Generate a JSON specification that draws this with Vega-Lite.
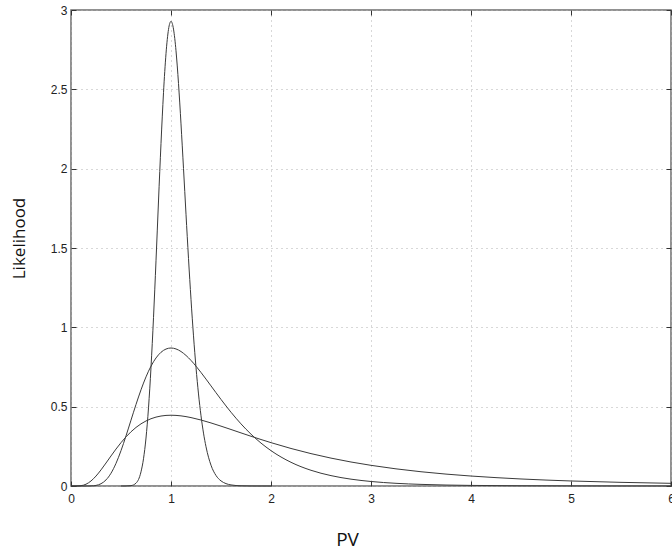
{
  "$schema": "https://vega.github.io/schema/vega-lite/v6.json",
  "width": 600,
  "height": 476,
  "autosize": {"type": "none"},
  "padding": {"left": 71, "top": 10, "right": 1, "bottom": 66},
  "background": "white",
  "config": {
    "view": {"stroke": "#6e6e6e", "strokeWidth": 1.5},
    "axis": {
      "labelFont": "Liberation Sans",
      "labelFontSize": 12,
      "labelColor": "#222",
      "labelFlush": false,
      "labelOverlap": false,
      "tickColor": "#333",
      "tickSize": -5,
      "domain": false,
      "titleFont": "Open Sans",
      "titleFontSize": 17,
      "titleFontWeight": "normal",
      "titleColor": "#111"
    }
  },
  "data": {
    "values": [
      {"c": "wide", "x": 0, "y": 0},
      {"c": "wide", "x": 0.05, "y": 0.0000},
      {"c": "wide", "x": 0.1, "y": 0.0020},
      {"c": "wide", "x": 0.15, "y": 0.0113},
      {"c": "wide", "x": 0.2, "y": 0.0317},
      {"c": "wide", "x": 0.25, "y": 0.0627},
      {"c": "wide", "x": 0.3, "y": 0.1016},
      {"c": "wide", "x": 0.35, "y": 0.1449},
      {"c": "wide", "x": 0.4, "y": 0.1894},
      {"c": "wide", "x": 0.45, "y": 0.2328},
      {"c": "wide", "x": 0.5, "y": 0.2732},
      {"c": "wide", "x": 0.55, "y": 0.3098},
      {"c": "wide", "x": 0.6, "y": 0.3418},
      {"c": "wide", "x": 0.65, "y": 0.3691},
      {"c": "wide", "x": 0.7, "y": 0.3918},
      {"c": "wide", "x": 0.75, "y": 0.4099},
      {"c": "wide", "x": 0.8, "y": 0.4240},
      {"c": "wide", "x": 0.85, "y": 0.4342},
      {"c": "wide", "x": 0.9, "y": 0.4410},
      {"c": "wide", "x": 0.95, "y": 0.4449},
      {"c": "wide", "x": 1.0, "y": 0.4461},
      {"c": "wide", "x": 1.1, "y": 0.4420},
      {"c": "wide", "x": 1.2, "y": 0.4312},
      {"c": "wide", "x": 1.3, "y": 0.4158},
      {"c": "wide", "x": 1.4, "y": 0.3974},
      {"c": "wide", "x": 1.5, "y": 0.3772},
      {"c": "wide", "x": 1.6, "y": 0.3561},
      {"c": "wide", "x": 1.7, "y": 0.3347},
      {"c": "wide", "x": 1.8, "y": 0.3135},
      {"c": "wide", "x": 1.9, "y": 0.2930},
      {"c": "wide", "x": 2.0, "y": 0.2732},
      {"c": "wide", "x": 2.2, "y": 0.2365},
      {"c": "wide", "x": 2.4, "y": 0.2041},
      {"c": "wide", "x": 2.6, "y": 0.1757},
      {"c": "wide", "x": 2.8, "y": 0.1512},
      {"c": "wide", "x": 3.0, "y": 0.1302},
      {"c": "wide", "x": 3.25, "y": 0.1081},
      {"c": "wide", "x": 3.5, "y": 0.0899},
      {"c": "wide", "x": 3.75, "y": 0.0750},
      {"c": "wide", "x": 4.0, "y": 0.0628},
      {"c": "wide", "x": 4.5, "y": 0.0443},
      {"c": "wide", "x": 5.0, "y": 0.0317},
      {"c": "wide", "x": 5.5, "y": 0.0230},
      {"c": "wide", "x": 6.0, "y": 0.0169},
      {"c": "medium", "x": 0, "y": 0},
      {"c": "medium", "x": 0.1, "y": 0},
      {"c": "medium", "x": 0.15, "y": 0.0000},
      {"c": "medium", "x": 0.2, "y": 0.0006},
      {"c": "medium", "x": 0.25, "y": 0.0037},
      {"c": "medium", "x": 0.3, "y": 0.0143},
      {"c": "medium", "x": 0.35, "y": 0.0383},
      {"c": "medium", "x": 0.4, "y": 0.0805},
      {"c": "medium", "x": 0.45, "y": 0.1427},
      {"c": "medium", "x": 0.5, "y": 0.2229},
      {"c": "medium", "x": 0.55, "y": 0.3159},
      {"c": "medium", "x": 0.6, "y": 0.4151},
      {"c": "medium", "x": 0.65, "y": 0.5139},
      {"c": "medium", "x": 0.7, "y": 0.6063},
      {"c": "medium", "x": 0.75, "y": 0.6878},
      {"c": "medium", "x": 0.8, "y": 0.7553},
      {"c": "medium", "x": 0.85, "y": 0.8070},
      {"c": "medium", "x": 0.9, "y": 0.8427},
      {"c": "medium", "x": 0.95, "y": 0.8632},
      {"c": "medium", "x": 1.0, "y": 0.8697},
      {"c": "medium", "x": 1.05, "y": 0.8638},
      {"c": "medium", "x": 1.1, "y": 0.8476},
      {"c": "medium", "x": 1.15, "y": 0.8228},
      {"c": "medium", "x": 1.2, "y": 0.7915},
      {"c": "medium", "x": 1.25, "y": 0.7552},
      {"c": "medium", "x": 1.3, "y": 0.7155},
      {"c": "medium", "x": 1.35, "y": 0.6737},
      {"c": "medium", "x": 1.4, "y": 0.6309},
      {"c": "medium", "x": 1.45, "y": 0.5880},
      {"c": "medium", "x": 1.5, "y": 0.5457},
      {"c": "medium", "x": 1.6, "y": 0.4650},
      {"c": "medium", "x": 1.7, "y": 0.3915},
      {"c": "medium", "x": 1.8, "y": 0.3266},
      {"c": "medium", "x": 1.9, "y": 0.2705},
      {"c": "medium", "x": 2.0, "y": 0.2228},
      {"c": "medium", "x": 2.2, "y": 0.1493},
      {"c": "medium", "x": 2.4, "y": 0.0990},
      {"c": "medium", "x": 2.6, "y": 0.0654},
      {"c": "medium", "x": 2.8, "y": 0.0431},
      {"c": "medium", "x": 3.0, "y": 0.0284},
      {"c": "medium", "x": 3.25, "y": 0.0169},
      {"c": "medium", "x": 3.5, "y": 0.0102},
      {"c": "medium", "x": 3.75, "y": 0.0061},
      {"c": "medium", "x": 4.0, "y": 0.0037},
      {"c": "medium", "x": 4.5, "y": 0.0014},
      {"c": "medium", "x": 5.0, "y": 0.0006},
      {"c": "medium", "x": 5.5, "y": 0.0002},
      {"c": "medium", "x": 6.0, "y": 0.0001},
      {"c": "narrow", "x": 0.5, "y": 0},
      {"c": "narrow", "x": 0.55, "y": 0.0002},
      {"c": "narrow", "x": 0.6, "y": 0.0023},
      {"c": "narrow", "x": 0.65, "y": 0.0180},
      {"c": "narrow", "x": 0.7, "y": 0.0893},
      {"c": "narrow", "x": 0.725, "y": 0.1716},
      {"c": "narrow", "x": 0.75, "y": 0.3024},
      {"c": "narrow", "x": 0.775, "y": 0.4928},
      {"c": "narrow", "x": 0.8, "y": 0.7477},
      {"c": "narrow", "x": 0.825, "y": 1.0609},
      {"c": "narrow", "x": 0.85, "y": 1.4195},
      {"c": "narrow", "x": 0.875, "y": 1.7963},
      {"c": "narrow", "x": 0.9, "y": 2.1594},
      {"c": "narrow", "x": 0.925, "y": 2.4785},
      {"c": "narrow", "x": 0.95, "y": 2.7246},
      {"c": "narrow", "x": 0.975, "y": 2.8775},
      {"c": "narrow", "x": 1.0, "y": 2.9283},
      {"c": "narrow", "x": 1.025, "y": 2.8797},
      {"c": "narrow", "x": 1.05, "y": 2.7430},
      {"c": "narrow", "x": 1.075, "y": 2.5369},
      {"c": "narrow", "x": 1.1, "y": 2.2822},
      {"c": "narrow", "x": 1.125, "y": 2.0010},
      {"c": "narrow", "x": 1.15, "y": 1.7128},
      {"c": "narrow", "x": 1.175, "y": 1.4340},
      {"c": "narrow", "x": 1.2, "y": 1.1764},
      {"c": "narrow", "x": 1.225, "y": 0.9463},
      {"c": "narrow", "x": 1.25, "y": 0.7472},
      {"c": "narrow", "x": 1.275, "y": 0.5801},
      {"c": "narrow", "x": 1.3, "y": 0.4427},
      {"c": "narrow", "x": 1.325, "y": 0.3334},
      {"c": "narrow", "x": 1.35, "y": 0.2474},
      {"c": "narrow", "x": 1.4, "y": 0.1310},
      {"c": "narrow", "x": 1.45, "y": 0.0663},
      {"c": "narrow", "x": 1.5, "y": 0.0322},
      {"c": "narrow", "x": 1.55, "y": 0.0150},
      {"c": "narrow", "x": 1.6, "y": 0.0068},
      {"c": "narrow", "x": 1.7, "y": 0.0013},
      {"c": "narrow", "x": 1.8, "y": 0.0002},
      {"c": "narrow", "x": 2.0, "y": 0}
    ]
  },
  "resolve": {"axis": {"x": "independent", "y": "independent"}},
  "layer": [
    {
      "mark": {"type": "line", "interpolate": "monotone", "color": "#3a3a3a", "strokeWidth": 1},
      "encoding": {
        "x": {
          "field": "x", "type": "quantitative",
          "scale": {"domain": [0, 6], "nice": false, "zero": false},
          "axis": {
            "orient": "bottom",
            "values": [0, 1, 2, 3, 4, 5, 6],
            "format": "~g",
            "grid": true, "gridDash": [1, 4], "gridColor": "#b0b0b0", "gridWidth": 1,
            "labelPadding": 12,
            "title": "PV",
            "titleAnchor": "start",
            "titleAlign": "center",
            "titleX": 276,
            "titleY": 59,
            "titleBaseline": "alphabetic",
            "titleFontSize": 19
          }
        },
        "y": {
          "field": "y", "type": "quantitative",
          "scale": {"domain": [0, 3], "nice": false, "zero": false},
          "axis": {
            "orient": "left",
            "values": [0, 0.5, 1, 1.5, 2, 2.5, 3],
            "format": "~g",
            "grid": true, "gridDash": [1, 4], "gridColor": "#b0b0b0", "gridWidth": 1,
            "labelPadding": 9,
            "title": "Likelihood",
            "titleAngle": -90,
            "titleAlign": "center",
            "titleBaseline": "middle",
            "titleX": -52,
            "titleY": 228,
            "titleAnchor": "start"
          }
        },
        "detail": {"field": "c"}
      }
    },
    {
      "mark": {"type": "line", "strokeOpacity": 0},
      "encoding": {
        "x": {
          "field": "x", "type": "quantitative",
          "scale": {"domain": [0, 6], "nice": false, "zero": false},
          "axis": {"orient": "top", "values": [0, 1, 2, 3, 4, 5, 6], "labels": false, "grid": false, "title": null}
        },
        "y": {
          "field": "y", "type": "quantitative",
          "scale": {"domain": [0, 3], "nice": false, "zero": false},
          "axis": {"orient": "right", "values": [0, 0.5, 1, 1.5, 2, 2.5, 3], "labels": false, "grid": false, "title": null}
        },
        "detail": {"field": "c"}
      }
    }
  ]
}
